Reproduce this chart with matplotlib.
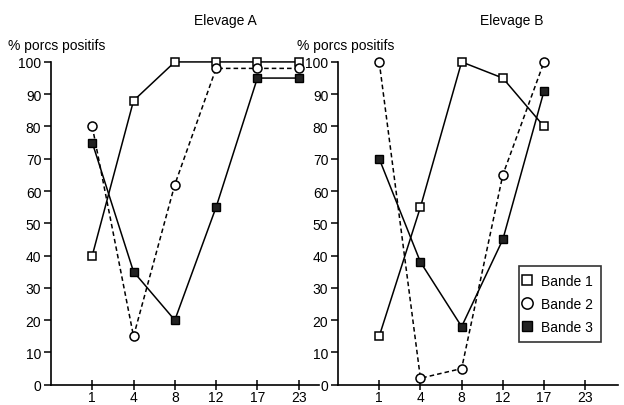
import matplotlib
matplotlib.use('Agg')
import matplotlib.pyplot as plt

plt.rcParams['font.family'] = ['Liberation Sans', 'DejaVu Sans']

semaines = ['1', '4', '8', '12', '17', '23']

# Elevage A
a_bande1 = [40, 88, 100, 100, 100, 100]
a_bande2 = [80, 15, 62, 98, 98, 98]
a_bande3 = [75, 35, 20, 55, 95, 95]

# Elevage B (pas de point a 23)
b_bande1 = [15, 55, 100, 95, 80]
b_bande2 = [100, 2, 5, 65, 100]
b_bande3 = [70, 38, 18, 45, 91]

fig = plt.figure(figsize=(6.24, 4.06), dpi=100)
axA = fig.add_axes([0.0817, 0.05, 0.43, 0.795])
axB = fig.add_axes([0.5417, 0.05, 0.449, 0.795])


def draw(ax, b1, b2, b3, xmax, lab_x):
    x1 = list(range(1, len(b1) + 1))
    ax.plot(x1, b1, '-', color='black', lw=1.1, marker='s', ms=5.5,
            mfc='white', mec='black', mew=1.1, clip_on=False, zorder=3,
            label='Bande 1')
    ax.plot(x1, b2, '--', color='black', lw=1.1, marker='o', ms=6.5,
            mfc='white', mec='black', mew=1.1, clip_on=False, zorder=3,
            dashes=(3, 2), label='Bande 2')
    ax.plot(x1, b3, '-', color='black', lw=1.1, marker='s', ms=5.5,
            mfc='#222222', mec='black', mew=1.0, clip_on=False, zorder=3,
            label='Bande 3')
    ax.set_xlim(0, xmax)
    ax.set_ylim(0, 100)
    ax.set_xticks(range(1, 7))
    ax.set_xticklabels(semaines)
    ax.set_yticks(range(0, 101, 10))
    for s in ['top', 'right']:
        ax.spines[s].set_visible(False)
    for s in ['left', 'bottom']:
        ax.spines[s].set_linewidth(1.2)
    ax.tick_params(axis='y', direction='out', length=5, width=1.1,
                   labelsize=10, pad=2)
    ax.tick_params(axis='x', direction='inout', length=7, width=1.1,
                   labelsize=10, pad=0)
    ax.text(lab_x, 1.03, '% porcs positifs', transform=ax.transAxes,
            fontsize=10, ha='left', va='bottom')


draw(axA, a_bande1, a_bande2, a_bande3, 6.5, -0.16)
draw(axB, b_bande1, b_bande2, b_bande3, 6.8, -0.145)

axA.set_title('Elevage A', fontsize=10, pad=27, x=0.65)
axB.set_title('Elevage B', fontsize=10, pad=27, x=0.62)

handles, labels = axB.get_legend_handles_labels()
leg = axB.legend(handles, labels, loc='lower right',
                 bbox_to_anchor=(0.965, 0.11), fontsize=10, frameon=True,
                 fancybox=False, edgecolor='black', handlelength=0,
                 handletextpad=1.0, borderpad=0.6, labelspacing=0.65,
                 markerscale=1.25)
leg.get_frame().set_linewidth(1.2)
for line in leg.get_lines():
    line.set_linestyle('None')

fig.savefig('out.png', dpi=100)
